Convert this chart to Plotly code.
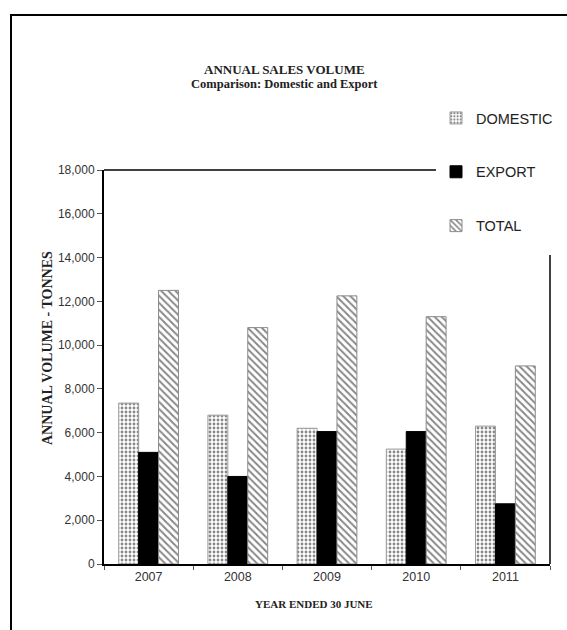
import plotly.graph_objects as go

# Annual sales volume (tonnes), years ended 30 June
years = ["2007", "2008", "2009", "2010", "2011"]
domestic = [7350, 6800, 6200, 5250, 6300]
export = [5100, 4000, 6050, 6050, 2750]
total = [12500, 10800, 12250, 11300, 9050]

W, H = 567, 630
L, R, T, B = 104, 17, 170, 66
PW, PH = W - L - R, H - T - B


def px(x):
    return (x - L) / PW


def py(y):
    return (H - B - y) / PH


SANS = "Liberation Sans, Arial, sans-serif"
SERIF = "Liberation Serif, Times New Roman, serif"

fig = go.Figure()

fig.add_trace(go.Bar(
    name="DOMESTIC", x=years, y=domestic, legendgroup="d",
    marker=dict(color="white",
                line=dict(color="#9a9a9a", width=1),
                pattern=dict(shape=".", fgcolor="#111111", bgcolor="white",
                             size=4, solidity=0.4)),
))
fig.add_trace(go.Bar(
    name="EXPORT", x=years, y=export, legendgroup="e",
    marker=dict(color="black", line=dict(color="black", width=1)),
))
fig.add_trace(go.Bar(
    name="TOTAL", x=years, y=total, legendgroup="t",
    marker=dict(color="white",
                line=dict(color="#8a8a8a", width=1),
                pattern=dict(shape="\\", fgcolor="#111111", bgcolor="white",
                             size=5, solidity=0.4)),
))


def label(text, x, y, size, angle=0):
    return dict(text=f"<b>{text}</b>", xref="paper", yref="paper",
                x=px(x), y=py(y), xanchor="center", yanchor="middle",
                showarrow=False, textangle=angle,
                font=dict(family=SERIF, size=size, color="#222222"))


fig.update_layout(
    width=W, height=H,
    margin=dict(l=L, r=R, t=T, b=B, autoexpand=False),
    paper_bgcolor="white", plot_bgcolor="white",
    barmode="group", bargap=0.33, bargroupgap=0,
    font=dict(family=SANS, size=12, color="#333333"),
    showlegend=True,
    legend=dict(
        x=px(436), y=py(102), xanchor="left", yanchor="top",
        bgcolor="white", borderwidth=0,
        traceorder="grouped", tracegroupgap=32,
        font=dict(family=SANS, size=14.5, color="#222222"),
    ),
    xaxis=dict(
        showline=True, linecolor="black", linewidth=2,
        ticks="outside", tickson="boundaries", ticklen=4,
        tickcolor="#555555", showgrid=False,
        tickfont=dict(family=SANS, size=12.5, color="#333333"),
    ),
    yaxis=dict(
        range=[0, 18000], dtick=2000, tickformat=",",
        showline=True, linecolor="black", linewidth=2,
        ticks="outside", ticklen=5, tickcolor="#555555",
        showgrid=False, zeroline=False,
        tickfont=dict(family=SANS, size=12, color="#333333"),
    ),
    shapes=[
        # outer chart frame
        dict(type="rect", xref="paper", yref="paper",
             x0=px(11), x1=px(640), y0=py(15), y1=py(700),
             line=dict(color="black", width=2), fillcolor="rgba(0,0,0,0)"),
        # top and right edges of the plot area, broken around the legend
        dict(type="line", xref="paper", yref="paper",
             x0=0, x1=px(440), y0=1, y1=1, line=dict(color="black", width=1.5)),
        dict(type="line", xref="paper", yref="paper",
             x0=1, x1=1, y0=0, y1=py(255), line=dict(color="black", width=1.5)),
    ],
    annotations=[
        label("ANNUAL SALES VOLUME", 284, 69, 13),
        label("Comparison: Domestic and Export", 284, 84, 12.5),
        label("ANNUAL VOLUME - TONNES", 47, 348, 14, angle=-90),
        label("YEAR ENDED 30 JUNE", 314, 604, 11),
    ],
)

fig.write_html("out.html")
